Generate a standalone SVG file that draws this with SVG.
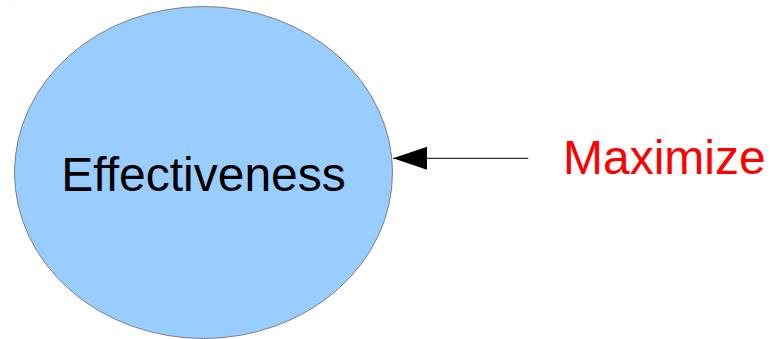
<svg xmlns="http://www.w3.org/2000/svg" width="772" height="339" viewBox="0 0 772 339">
  <style>
    .label { font-family: "Liberation Sans", Arial, sans-serif; font-size: 48px; }
    .node-shape { fill: #99ccff; stroke: #7f7f7f; stroke-width: 1; }
    .edge { stroke: #000000; stroke-width: 1; fill: none; }
  </style>
  <defs>
    <marker id="arrowhead" markerUnits="userSpaceOnUse" markerWidth="34" markerHeight="23" refX="34" refY="11.5" orient="auto">
      <path d="M0,0 L34,11.5 L0,23 Z" fill="#000000"/>
    </marker>
  </defs>
  <rect width="772" height="339" fill="#ffffff"/>
  <rect x="14" y="6" width="1" height="1" fill="#d8d8d8"/>

  <g id="effectiveness">
    <ellipse class="node-shape" cx="203.5" cy="172.5" rx="189" ry="166"/>
    <text class="label" x="203.5" y="190.5" text-anchor="middle" fill="#000000">Effectiveness</text>
  </g>

  <g id="maximize">
    <text class="label" x="563" y="173.5" fill="#ff0000">Maximize</text>
  </g>

  <g id="connectors">
    <line class="edge" x1="528.3" y1="158.3" x2="393" y2="158.3" marker-end="url(#arrowhead)"/>
  </g>
</svg>
